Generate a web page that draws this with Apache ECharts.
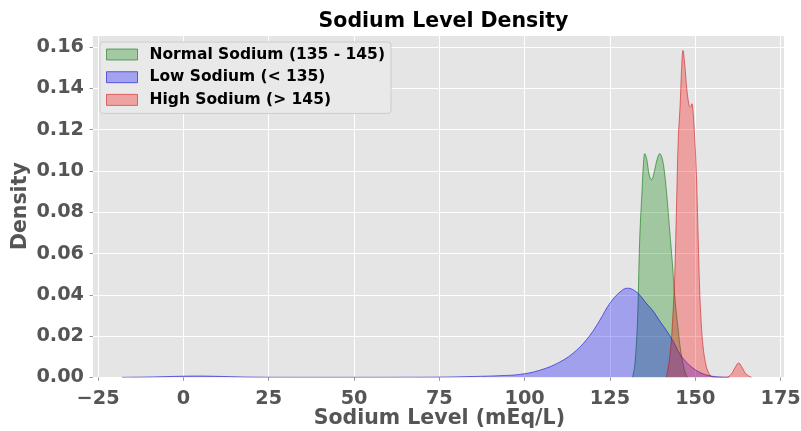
<!DOCTYPE html>
<html>
<head>
<meta charset="utf-8">
<script src="https://cdn.jsdelivr.net/npm/echarts@6/dist/echarts.min.js"></script>
<style>
  html, body { margin: 0; padding: 0; background: #ffffff; }
  #chart { width: 801px; height: 431px; }
</style>
</head>
<body>
<div id="chart"></div>
<script>
// Text
const titleText = 'Sodium Level Density';
const xAxisName = 'Sodium Level (mEq/L)';
const yAxisName = 'Density';
const seriesNames = ['Normal Sodium (135 - 145)', 'Low Sodium (< 135)', 'High Sodium (> 145)'];

// Axis ranges and tick steps
const xRange = [-26.5, 176];
const xTickRange = [-25, 175];
const xTickStep = 25;
const yRange = [0, 0.1659];
const yTickStep = 0.02;

// Density curves (sodium level, density)
const normalX = [131.6, 132.2, 132.8, 133.2, 133.7, 134.4, 134.8, 135.2, 135.8, 136.5, 137.2, 137.9, 138.8, 139.6, 140.3, 141.0, 141.7, 142.5, 143.3, 144.0, 145.0, 145.7, 146.4, 147.1, 147.8];
const normalY = [0.0, 0.005, 0.0179, 0.0341, 0.0664, 0.0906, 0.103, 0.1084, 0.1055, 0.098, 0.0958, 0.099, 0.1055, 0.1084, 0.106, 0.099, 0.0874, 0.0712, 0.0551, 0.0389, 0.0228, 0.013, 0.0066, 0.002, 0.0];

const lowX = [-18, -12, -6, -1, 4, 9, 14, 20, 26, 45, 65, 75, 85, 92.7, 98.6, 104.4, 110.3, 115.2, 119.1, 122.0, 124.9, 127.9, 130.1, 132.8, 135.6, 137.6, 139.5, 141.5, 143.5, 145.4, 147.3, 149.3, 151.3, 153.3, 156, 160];
const lowY = [0.0, 0.0001, 0.0003, 0.0005, 0.0006, 0.0005, 0.0003, 0.0001, 0.00002, 0.0, 0.00003, 0.0001, 0.0004, 0.0008, 0.0014, 0.0034, 0.0074, 0.0131, 0.0203, 0.0276, 0.0357, 0.0413, 0.0432, 0.0413, 0.036, 0.0322, 0.0275, 0.0228, 0.0175, 0.0115, 0.0075, 0.0045, 0.0024, 0.0011, 0.0003, 0.0];

const highX = [141.5, 142.0, 142.5, 143.0, 143.3, 143.7, 144.0, 144.5, 145.0, 145.6, 146.0, 146.4, 146.9, 147.5, 148.2, 148.6, 149.0, 149.4, 149.8, 150.1, 150.4, 150.8, 151.3, 151.8, 152.3, 153.0, 153.7, 154.7, 156.0, 159.1, 160.5, 161.6, 162.7, 163.8, 164.9, 166.5];
const highY = [0.0, 0.004, 0.0098, 0.018, 0.026, 0.038, 0.050, 0.0825, 0.1148, 0.1334, 0.150, 0.1584, 0.152, 0.140, 0.1318, 0.131, 0.1326, 0.128, 0.1172, 0.1076, 0.095, 0.071, 0.042, 0.025, 0.0147, 0.007, 0.003, 0.0005, 0.0, 0.0, 0.0015, 0.0045, 0.0069, 0.0045, 0.0015, 0.0];

// Plot-area geometry (pixels)
const W = 801;
const plotLeft = 93, plotRight = 784, plotTop = 35, plotBottom = 377.3;
const pxPerUnit = (plotRight - plotLeft) / (xRange[1] - xRange[0]);
const tickLeft = plotLeft + (xTickRange[0] - xRange[0]) * pxPerUnit;
const tickRight = plotLeft + (xTickRange[1] - xRange[0]) * pxPerUnit;

const FONT = 'DejaVu Sans';
const GREY = '#555555';

function zip(xs, ys) { return xs.map((x, i) => [x, ys[i]]); }

const palette = [
  { fill: 'rgba(0,128,0,0.3)', edge: 'rgba(0,110,0,0.55)' },
  { fill: 'rgba(0,0,255,0.3)', edge: 'rgba(0,0,200,0.55)' },
  { fill: 'rgba(255,0,0,0.3)', edge: 'rgba(200,0,0,0.5)' }
];
const curves = [zip(normalX, normalY), zip(lowX, lowY), zip(highX, highY)];

const chart = echarts.init(document.getElementById('chart'), null, { renderer: 'canvas' });

const option = {
  animation: false,
  backgroundColor: '#ffffff',
  title: {
    text: titleText,
    left: (plotLeft + plotRight) / 2,
    textAlign: 'center',
    top: 6,
    textStyle: { fontFamily: FONT, fontWeight: 'bold', fontSize: 20.5, color: '#000000' }
  },
  legend: {
    orient: 'vertical',
    left: 100,
    top: 42,
    padding: [4, 6, 5, 6],
    itemGap: 5.7,
    itemWidth: 31,
    itemHeight: 11,
    icon: 'rect',
    selectedMode: false,
    backgroundColor: '#e9e9e9',
    borderColor: '#cccccc',
    borderWidth: 1,
    borderRadius: 3,
    textStyle: { fontFamily: FONT, fontWeight: 'bold', fontSize: 15.5, color: '#000000', lineHeight: 17, padding: [0, 0, 0, 7] },
    data: seriesNames.map((n, i) => ({
      name: n,
      itemStyle: { color: palette[i].fill, borderColor: palette[i].edge, borderWidth: 1 }
    }))
  },
  grid: [
    { left: plotLeft, right: W - plotRight, top: plotTop, height: plotBottom - plotTop,
      show: true, backgroundColor: '#e5e5e5', borderWidth: 0,
      containLabel: false, outerBoundsMode: 'none' },
    { left: tickLeft, right: W - tickRight, top: plotTop, height: plotBottom - plotTop,
      show: false, containLabel: false, outerBoundsMode: 'none' }
  ],
  xAxis: [
    { type: 'value', gridIndex: 0, min: xRange[0], max: xRange[1], show: false,
      axisLine: { show: false, onZero: false } },
    {
      type: 'value', gridIndex: 1, min: xTickRange[0], max: xTickRange[1], interval: xTickStep,
      name: xAxisName, nameLocation: 'middle', nameGap: 31,
      nameMoveOverlap: false,
      nameTextStyle: { fontFamily: FONT, fontWeight: 'bold', fontSize: 20.5, color: GREY },
      axisLine: { show: false, onZero: false },
      axisTick: { show: true, length: 3.5, lineStyle: { color: '#999999' } },
      axisLabel: {
        margin: 12, fontFamily: FONT, fontWeight: 'bold', fontSize: 19.3, color: GREY,
        hideOverlap: false,
        formatter: v => String(v).replace('-', '\u2212')
      },
      splitLine: { show: true, lineStyle: { color: '#ffffff', width: 1 } }
    }
  ],
  yAxis: [
    {
      type: 'value', gridIndex: 0, min: yRange[0], max: yRange[1], interval: yTickStep,
      name: yAxisName, nameLocation: 'middle', nameGap: 62,
      nameMoveOverlap: false,
      nameTextStyle: { fontFamily: FONT, fontWeight: 'bold', fontSize: 20.5, color: GREY },
      axisLine: { show: false, onZero: false },
      axisTick: { show: true, length: 3.5, lineStyle: { color: '#999999' } },
      axisLabel: {
        margin: 9, fontFamily: FONT, fontWeight: 'bold', fontSize: 19.3, color: GREY,
        showMaxLabel: false,
        formatter: v => {
          const k = v / yTickStep;
          return Math.abs(k - Math.round(k)) < 1e-6 ? v.toFixed(2) : '';
        }
      },
      splitLine: { show: true, lineStyle: { color: '#ffffff', width: 1 } }
    },
    { type: 'value', gridIndex: 1, min: 0, max: 1, show: false,
      axisLine: { show: false, onZero: false } }
  ],
  series: seriesNames.map((n, i) => ({
    name: n,
    type: 'line',
    xAxisIndex: 0,
    yAxisIndex: 0,
    data: curves[i],
    smooth: 0.4,
    showSymbol: false,
    symbol: 'none',
    itemStyle: { color: palette[i].fill },
    lineStyle: { color: palette[i].edge, width: 1 },
    areaStyle: { color: palette[i].fill, opacity: 1 },
    emphasis: { disabled: true },
    z: 2 + i
  }))
};

chart.setOption(option);
</script>
</body>
</html>
